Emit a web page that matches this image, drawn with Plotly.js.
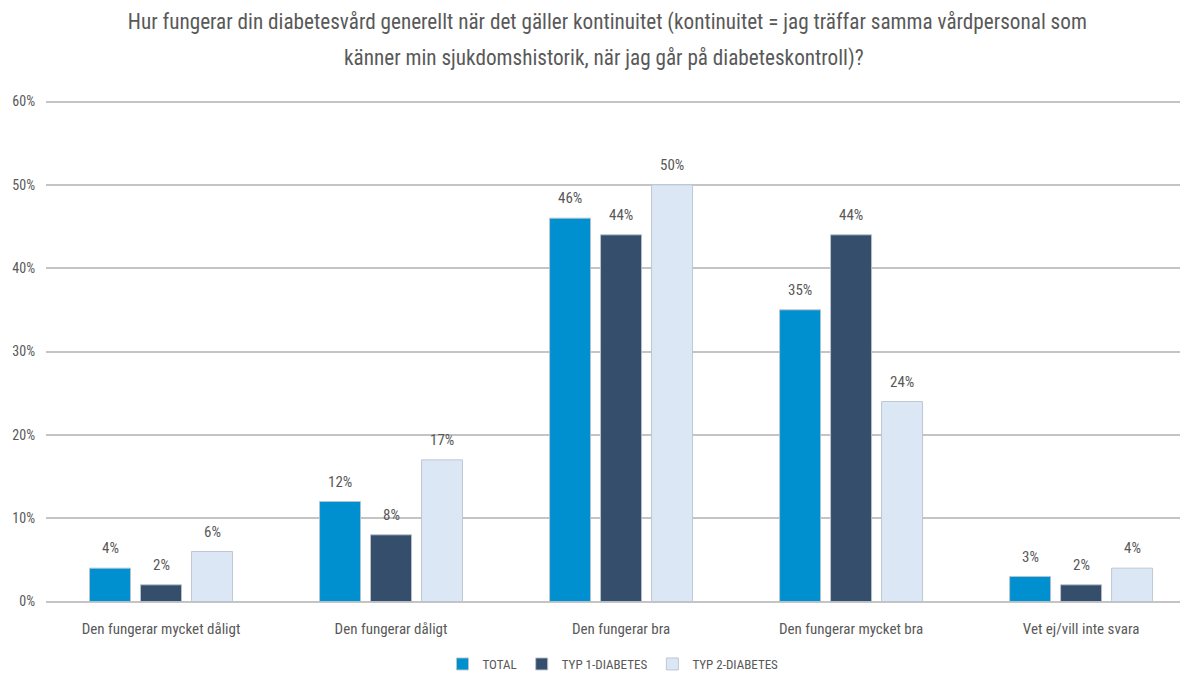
<!DOCTYPE html>
<html>
<head>
<meta charset="utf-8">
<script src="https://cdn.plot.ly/plotly-3.0.1.min.js"></script>
<style>html,body{margin:0;padding:0;background:#fff;}#chart{width:1182px;height:674px;}</style>
</head>
<body>
<div id="chart"></div>
<script>
const categories = ["Den fungerar mycket dåligt", "Den fungerar dåligt", "Den fungerar bra", "Den fungerar mycket bra", "Vet ej/vill inte svara"];
const seriesNames = ["TOTAL", "TYP 1-DIABETES", "TYP 2-DIABETES"];
const total = [0.04, 0.12, 0.46, 0.35, 0.03];
const typ1 = [0.02, 0.08, 0.44, 0.44, 0.02];
const typ2 = [0.06, 0.17, 0.50, 0.24, 0.04];
const yTicks = [0, 0.1, 0.2, 0.3, 0.4, 0.5, 0.6];
const titleLine1 = "Hur fungerar din diabetesvård generellt när det gäller kontinuitet (kontinuitet = jag träffar samma vårdpersonal som";
const titleLine2 = "känner min sjukdomshistorik, när jag går på diabeteskontroll)?";

const colors = ["#0090d0", "#344e6c", "#dce7f6"];
const FONT = '"Roboto Condensed", "Carlito", "DejaVu Sans Condensed", sans-serif';
const grey = "#595959";
const slotPx = 51; // pixel width of one bar slot inside a group

const series = [total, typ1, typ2];
const traces = series.map((vals, i) => ({
  type: "bar",
  name: seriesNames[i],
  x: categories,
  y: vals,
  marker: {color: colors[i], line: {color: "rgba(185,195,205,0.9)", width: 1}},
  hoverinfo: "skip"
}));

const annotations = [];
series.forEach((vals, i) => {
  vals.forEach((v, j) => {
    annotations.push({
      x: categories[j], y: v, xref: "x", yref: "y",
      text: Math.round(v * 100) + "%",
      showarrow: false, yanchor: "bottom", yshift: 9, xshift: (i - 1) * slotPx,
      font: {family: FONT, size: 15, color: grey}
    });
  });
});
annotations.push({
  x: 0.492, xref: "paper", xanchor: "center", y: 1.082, yref: "paper", yanchor: "middle",
  text: titleLine2, showarrow: false, font: {family: FONT, size: 21.2, color: grey}
});

const layout = {
  width: 1182, height: 674,
  paper_bgcolor: "#fff", plot_bgcolor: "#fff",
  margin: {l: 46, r: 2, t: 98.5, b: 69.5, autoexpand: false},
  barmode: "group",
  bargap: 0.335,
  bargroupgap: 0.196,
  font: {family: FONT, color: grey},
  title: {text: titleLine1, font: {family: FONT, size: 21.2, color: grey}, x: 0.495, xanchor: "center", y: 1 - 22 / 674, yanchor: "middle", yref: "container", xref: "paper"},
  xaxis: {range: [-0.5, 4.43], showgrid: false, zeroline: false, showline: false, ticks: "", tickfont: {family: FONT, size: 15, color: grey}, ticklabelstandoff: 14, fixedrange: true},
  yaxis: {range: [-0.003, 0.603], tickvals: yTicks, tickformat: ".0%", showgrid: true, gridcolor: "#c4c4c4", gridwidth: 2, zeroline: false, showline: false, ticks: "", tickfont: {family: FONT, size: 14, color: grey}, ticklabelstandoff: 10, fixedrange: true},
  legend: {orientation: "h", x: 0.5, xanchor: "center", xref: "paper", y: 10 / 674, yanchor: "middle", yref: "container", font: {family: FONT, size: 13, color: grey}, traceorder: "normal", itemwidth: 30},
  annotations: annotations,
  showlegend: true
};

Plotly.newPlot("chart", traces, layout, {displayModeBar: false, staticPlot: true});
</script>
</body>
</html>
